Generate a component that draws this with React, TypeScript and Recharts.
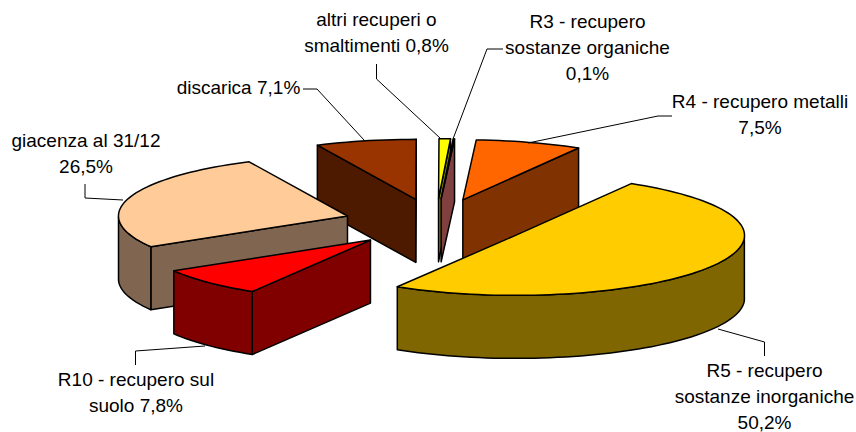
import React from "react";
import { PieChart, Pie } from "recharts";

// clockwise from discarica; R10 is kept for a second Pie so it sits on top of giacenza
const categories = [
  "discarica",
  "altri recuperi o smaltimenti",
  "R3 - recupero sostanze organiche",
  "R4 - recupero metalli",
  "R5 - recupero sostanze inorganiche",
  "R10 - recupero sul suolo",
  "giacenza al 31/12",
];
const values = [7.1, 0.8, 0.1, 7.5, 50.2, 7.8, 26.5];
const topColors = ["#993300", "#FFFF00", "#FF8080", "#FF6600", "#FFCC00", "#FF0000", "#FFCC99"];
const sideColors = ["#4D1A00", "#808000", "#804040", "#803300", "#806600", "#800000", "#806650"];

const labelLines = [
  ["discarica 7,1%"],
  ["altri recuperi o", "smaltimenti 0,8%"],
  ["R3 - recupero", "sostanze organiche", "0,1%"],
  ["R4 - recupero metalli", "7,5%"],
  ["R5 - recupero", "sostanze inorganiche", "50,2%"],
  ["R10 - recupero sul", "suolo 7,8%"],
  ["giacenza al 31/12", "26,5%"],
];
// text centre x, first baseline y, leader polyline
const labelPlaces: { x: number; y: number; line: string }[] = [
  { x: 238.5, y: 94, line: "303,89 317,89 364,140" },
  { x: 376.5, y: 26, line: "376.5,64 376.5,79 440,138" },
  { x: 587.5, y: 28, line: "503,49 487,49 453,139" },
  { x: 760, y: 108, line: "672,116 658,116 528,143" },
  { x: 764.5, y: 377, line: "718,329 764.5,342 764.5,356" },
  { x: 136, y: 386, line: "135.5,365 135.5,351 205,346" },
  { x: 86, y: 147, line: "85,184 85,198 123,200" },
];

const tableData = categories.map((name, i) => ({
  name,
  value: values[i],
  fill: topColors[i],
  side: sideColors[i],
}));

const WIDTH = 856;
const HEIGHT = 432;
const RADIUS = 229;
const TILT = 0.262; // vertical squash of the pie plane
const EXPLODE = 92.5;
const DEPTH = 63;
const FRONT_SLICE = "R10 - recupero sul suolo";
// discarica starts here, clockwise from 12 o'clock (R3 starts at 3 degrees)
const START_CLOCK = 3 + ((0.1 + 7.5 + 50.2 + 7.8 + 26.5) / 100) * 360;
const START_ANGLE = 90 - START_CLOCK;

const RAD = Math.PI / 180;

const Slice3D = (props: any) => {
  const { cx, cy, outerRadius, startAngle, endAngle, fill, payload } = props;
  const mid = (startAngle + endAngle) / 2;
  const ox = cx + EXPLODE * Math.cos(mid * RAD);
  const oy = cy - EXPLODE * Math.sin(mid * RAD) * TILT;
  const at = (deg: number, r: number, drop = 0) => [
    ox + r * Math.cos(deg * RAD),
    oy - r * Math.sin(deg * RAD) * TILT + drop,
  ];
  const path = (pts: number[][]) =>
    "M" + pts.map((p) => p[0].toFixed(2) + "," + p[1].toFixed(2)).join("L") + "Z";

  // recharts angles run counter clockwise, this pie goes clockwise so start > end
  const rim: number[] = [];
  const steps = Math.max(1, Math.ceil((startAngle - endAngle) / 2));
  for (let i = 0; i <= steps; i++) rim.push(startAngle + ((endAngle - startAngle) * i) / steps);

  const top = [at(0, 0), ...rim.map((a) => at(a, outerRadius))];

  const walls: number[][][] = [];
  if (Math.cos(startAngle * RAD) < 0) {
    walls.push([at(0, 0), at(startAngle, outerRadius), at(startAngle, outerRadius, DEPTH), at(0, 0, DEPTH)]);
  }
  if (Math.cos(endAngle * RAD) > 0) {
    walls.push([at(0, 0), at(endAngle, outerRadius), at(endAngle, outerRadius, DEPTH), at(0, 0, DEPTH)]);
  }
  const front = rim.filter((a) => Math.sin(a * RAD) < 0);
  if (front.length > 1) {
    walls.push([
      ...front.map((a) => at(a, outerRadius)),
      ...front.slice().reverse().map((a) => at(a, outerRadius, DEPTH)),
    ]);
  }

  const common = { stroke: "#000", strokeWidth: 1.5, strokeLinejoin: "round" as const };
  return (
    <g>
      {walls.map((w, i) => (
        <path key={i} d={path(w)} fill={payload.side} {...common} />
      ))}
      <path d={path(top)} fill={fill} {...common} />
    </g>
  );
};

const backShape = (props: any) => (props.payload.name === FRONT_SLICE ? <g /> : <Slice3D {...props} />);
const frontShape = (props: any) => (props.payload.name === FRONT_SLICE ? <Slice3D {...props} /> : <g />);

const renderLabel = (props: any) => {
  const place = labelPlaces[props.index];
  return (
    <g>
      <polyline points={place.line} fill="none" stroke="#000" strokeWidth={1} />
      <text
        x={place.x}
        y={place.y}
        textAnchor="middle"
        fontFamily="'Liberation Sans', Arial, sans-serif"
        fontSize={19}
        fill="#000"
      >
        {labelLines[props.index].map((t, i) => (
          <tspan key={i} x={place.x} y={place.y + i * 26}>
            {t}
          </tspan>
        ))}
      </text>
    </g>
  );
};

export default function App() {
  const pieProps = {
    data: tableData,
    dataKey: "value",
    nameKey: "name",
    cx: 436,
    cy: 223,
    innerRadius: 0,
    outerRadius: RADIUS,
    startAngle: START_ANGLE,
    endAngle: START_ANGLE - 360,
    paddingAngle: 0,
    isAnimationActive: false,
  };
  return (
    <div style={{ position: "absolute", left: 0, top: 0, width: WIDTH, height: HEIGHT, background: "#fff" }}>
      <PieChart width={WIDTH} height={HEIGHT} margin={{ top: 0, right: 0, bottom: 0, left: 0 }}>
        <Pie {...pieProps} shape={backShape} label={renderLabel} labelLine={false} />
        <Pie {...pieProps} shape={frontShape} label={false} labelLine={false} />
      </PieChart>
    </div>
  );
}
